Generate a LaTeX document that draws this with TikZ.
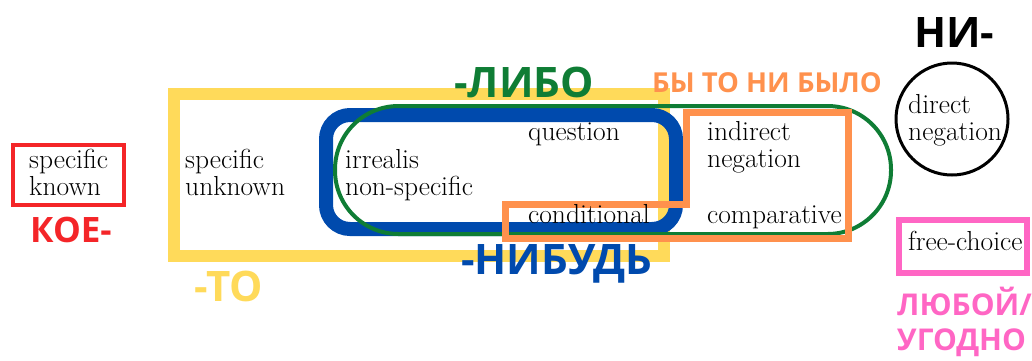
\documentclass[tikz,border=0pt]{standalone}
\usepackage{fontspec}
\newfontfamily\labfont{Open Sans}[BoldFont={Open Sans Bold}]
\definecolor{cred}{HTML}{F42528}
\definecolor{cyellow}{HTML}{FFDA5A}
\definecolor{cblue}{HTML}{004AAD}
\definecolor{cgreen}{HTML}{0F7D35}
\definecolor{corange}{HTML}{FF914D}
\definecolor{cpink}{HTML}{FF66C4}
\tikzset{
  term/.style={anchor=base west, inner sep=0pt, align=left,
    font=\fontsize{27.5}{27}\selectfont},
  lab/.style={anchor=base west, inner sep=0pt, font=\labfont\bfseries}
}
\begin{document}
\begin{tikzpicture}[x=1pt,y=-1pt]
\useasboundingbox (0,0) rectangle (1032,360);
% shapes
\draw[cyellow, line width=12pt] (174,94) rectangle (664,256);
\draw[cblue, line width=14pt, rounded corners=24pt] (326,115) rectangle (676,229);
\draw[cgreen, line width=4pt, rounded corners=63.5pt] (335,106) rectangle (891,234);
\draw[corange, line width=7pt, line join=miter] (686,112) -- (848,112) -- (848,238) -- (505,238) -- (505,204) -- (686,204) -- cycle;
\draw[cred, line width=4pt] (13,145) rectangle (124,205);
\draw[black, line width=3pt] (952,119) circle[radius=56pt];
\draw[cpink, line width=6pt] (899,220) rectangle (1027,273);
% terms (anchor at the baseline of the last line)
\node[term] (sk) at (29,195) {specific\\known};
\node[term] (su) at (185,195) {specific\\unknown};
\node[term] (ir) at (345,195) {irrealis\\non-specific};
\node[term] (qu) at (528,140) {question};
\node[term] (co) at (528,223) {conditional};
\node[term] (in) at (707,167) {indirect\\negation};
\node[term] (cp) at (707,223) {comparative};
\node[term] (dn) at (908,140) {direct\\negation};
\node[term] (fc) at (908,250) {free-choice};
% labels
\node[lab, text=cred, font=\labfont\bfseries\fontsize{35}{40}\selectfont] (koe) at (30,242) {КОЕ-};
\node[lab, text=cyellow, font=\labfont\bfseries\fontsize{42}{44}\selectfont] (to) at (194,301) {-ТО};
\node[lab, text=cgreen, font=\labfont\bfseries\fontsize{42}{44}\selectfont] (libo) at (454,97) {-ЛИБО};
\node[lab, text=corange, font=\labfont\bfseries\fontsize{27.5}{30}\selectfont] (byto) at (652,92) {БЫ ТО НИ БЫЛО};
\node[lab, text=cblue, font=\labfont\bfseries\fontsize{42}{44}\selectfont] (nibud) at (461,274) {-НИБУДЬ};
\node[lab, text=black, font=\labfont\bfseries\fontsize{42}{44}\selectfont] (ni) at (914,47) {НИ-};
\node[lab, text=cpink, align=left, font=\labfont\bfseries\fontsize{30}{35}\selectfont] (lyuboy) at (897,350) {ЛЮБОЙ/\\УГОДНО};
\end{tikzpicture}
\end{document}
